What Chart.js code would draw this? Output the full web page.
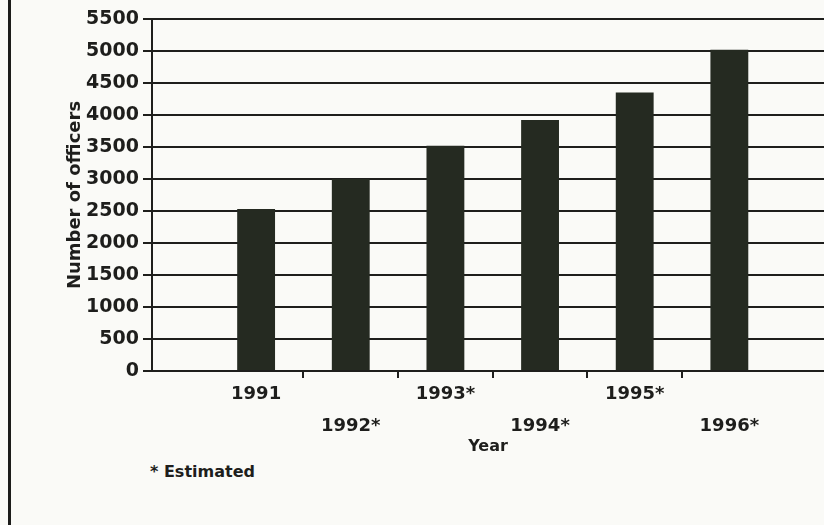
<!DOCTYPE html>
<html lang="en">
<head>
  <meta charset="UTF-8" />
  <title>Number of officers by year</title>
  <script src="https://cdn.jsdelivr.net/npm/chart.js"></script>
  <style>
    html, body {
      margin: 0;
      padding: 0;
      background: #fafaf7;
      font-family: 'DejaVu Sans', sans-serif;
    }

    .page {
      position: relative;
      width: 824px;
      height: 525px;
      overflow: hidden;
    }

    .edge {
      position: absolute;
      left: 8px;
      top: 0;
      width: 3px;
      height: 525px;
      background: #1c1c1a;
    }

    .chart-box {
      position: absolute;
      left: 0;
      top: 0;
      width: 824px;
      height: 460px;
    }

    .note {
      position: absolute;
      left: 150px;
      top: 462px;
      font-size: 16px;
      font-weight: bold;
      color: #1e1e1c;
    }
  </style>
</head>
<body>
  <div class="page">
    <div class="edge"></div>
    <div class="chart-box">
      <canvas id="officersChart"></canvas>
    </div>
    <div class="note">* Estimated</div>
  </div>

  <script>
    // Données
    const years = [1991, 1992, 1993, 1994, 1995, 1996];
    const yearLabels = ['1991', '1992*', '1993*', '1994*', '1995*', '1996*'];
    const officers = [2530, 3000, 3520, 3920, 4350, 5020];

    const ink = '#1e1e1c';
    const barColor = '#252a21';

    const ctx = document.getElementById('officersChart').getContext('2d');
    new Chart(ctx, {
      type: 'bar',
      data: {
        datasets: [{
          label: 'Number of officers',
          data: years.map((y, i) => ({ x: y, y: officers[i] })),
          backgroundColor: barColor,
          borderWidth: 0,
          categoryPercentage: 1,
          barPercentage: 0.8
        }]
      },
      options: {
        responsive: true,
        maintainAspectRatio: false,
        animation: false,
        layout: {
          padding: { left: 65, right: 0, top: 19, bottom: 0 }
        },
        plugins: {
          legend: { display: false },
          tooltip: { enabled: false }
        },
        scales: {
          x: {
            type: 'linear',
            min: 1989.9,
            max: 1997,
            offset: false,
            afterBuildTicks: (scale) => {
              // repères entre les années, étiquettes sous les barres
              const t = [];
              years.forEach((y, i) => {
                t.push({ value: y });
                if (i < years.length - 1) t.push({ value: y + 0.5 });
              });
              scale.ticks = t;
            },
            afterFit: (scale) => { scale.height = 89; },
            grid: {
              offset: false,
              drawOnChartArea: false,
              lineWidth: 2,
              tickLength: 7,
              tickColor: (c) => (c.tick && c.tick.value % 1 === 0) ? 'rgba(0,0,0,0)' : ink
            },
            border: { display: true, color: ink, width: 2 },
            ticks: {
              autoSkip: false,
              maxRotation: 0,
              padding: 0,
              color: ink,
              font: { family: 'DejaVu Sans', size: 18, weight: 'bold', lineHeight: 1.78 },
              callback: (value) => {
                const i = years.indexOf(value);
                if (i < 0) return '';
                return i % 2 ? ['', yearLabels[i]] : yearLabels[i];
              }
            },
            title: {
              display: true,
              text: 'Year',
              color: ink,
              padding: { top: 0, bottom: 4 },
              font: { family: 'DejaVu Sans', size: 16, weight: 'bold' }
            }
          },
          y: {
            min: 0,
            max: 5500,
            afterFit: (scale) => { scale.width = 87; },
            grid: {
              color: ink,
              lineWidth: 2,
              tickLength: 9
            },
            border: { display: true, color: ink, width: 2 },
            ticks: {
              stepSize: 500,
              padding: 4,
              color: ink,
              font: { family: 'DejaVu Sans', size: 19, weight: 'bold' },
              callback: (value) => String(value)
            },
            title: {
              display: true,
              text: 'Number of officers',
              color: ink,
              padding: 0,
              font: { family: 'DejaVu Sans', size: 18, weight: 'bold' }
            }
          }
        }
      }
    });
  </script>
</body>
</html>
